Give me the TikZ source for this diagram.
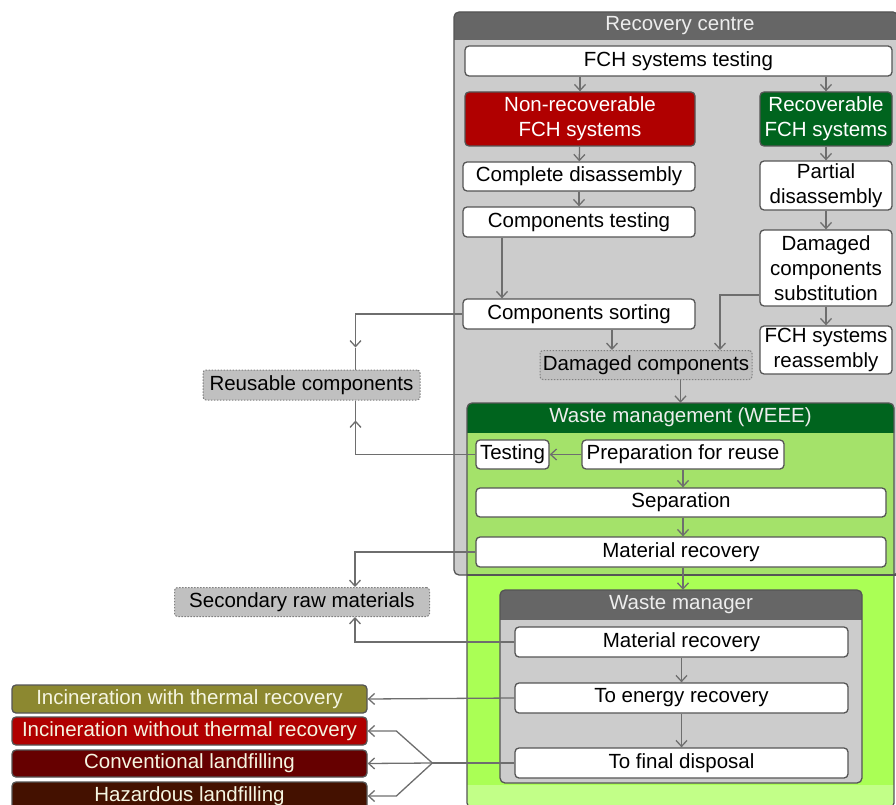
\documentclass[tikz,border=0pt]{standalone}
\usepackage{fontspec}
\setmainfont{Liberation Sans}
\usetikzlibrary{arrows.meta, positioning, calc}

\definecolor{framegray}{RGB}{85, 85, 85}
\definecolor{arrowgray}{RGB}{110, 110, 110}
\definecolor{hdrgray}{RGB}{102, 102, 102}
\definecolor{bodygray}{RGB}{204, 204, 204}
\definecolor{outgray}{RGB}{192, 192, 192}
\definecolor{dotgray}{RGB}{128, 128, 128}
\definecolor{nonrecred}{RGB}{176, 0, 0}
\definecolor{recgreen}{RGB}{0, 100, 30}
\definecolor{weeeshade}{RGB}{164, 226, 106}
\definecolor{weeebright}{RGB}{170, 255, 85}
\definecolor{weeepale}{RGB}{194, 255, 136}
\definecolor{olive1}{RGB}{140, 136, 48}
\definecolor{convred}{RGB}{102, 0, 0}
\definecolor{hazbrown}{RGB}{68, 17, 0}
\definecolor{cream}{RGB}{245, 245, 225}

\newcommand{\flowfont}{\fontsize{20.5}{25}\selectfont}

\tikzset{
  stepbox/.style={draw=framegray, fill=white, line width=1.3pt, rounded corners=4pt,
    inner sep=0pt, align=center, font=\flowfont},
  redbox/.style={stepbox, fill=nonrecred, text=white},
  greenbox/.style={stepbox, fill=recgreen, text=white},
  outbox/.style={draw=dotgray, fill=outgray, line width=1pt, dash pattern=on 1.5pt off 1.5pt,
    rounded corners=3pt, inner sep=0pt, align=center, font=\flowfont},
  endbox/.style={stepbox, text=cream, minimum width=355, minimum height=28},
  hdrtext/.style={inner sep=0pt, text=white!93!black, font=\flowfont},
  frame/.style={draw=framegray, line width=1.3pt},
  link/.style={draw=arrowgray, line width=1.3pt},
  arr/.style={link, -{Straight Barb[length=6pt,width=11pt]}},
}

\begin{document}
\begin{tikzpicture}[x=1pt, y=-1pt]
  \useasboundingbox (0,0) rectangle (896,805);

  % recovery centre panel
  \fill[bodygray, rounded corners=5pt] (454,12) rectangle (898,575);
  \begin{scope}
    \clip (454,12) rectangle (898,40);
    \fill[hdrgray, rounded corners=5pt] (454,12) rectangle (898,60);
  \end{scope}
  \draw[frame, rounded corners=5pt] (454,12) rectangle (898,575);
  \node[hdrtext] (rctitle) at (680,26) {Recovery centre};

  % WEEE panel, over the recovery centre
  \fill[weeebright] (467,432) rectangle (894,808);
  \fill[weeeshade] (467,432) rectangle (894,575);
  \fill[weeepale] (467,785) rectangle (894,808);
  \begin{scope}
    \clip (467,403) rectangle (894,432);
    \fill[recgreen, rounded corners=5pt] (467,403) rectangle (894,450);
  \end{scope}
  \draw[frame, rounded corners=5pt] (467,403) rectangle (894,808);
  \draw[frame] (467,575) -- (898,575);
  \node[hdrtext, minimum width=427, minimum height=29] (weee) at (680.5,417.5) {Waste management (WEEE)};

  % waste manager panel
  \fill[bodygray, rounded corners=5pt] (500,590) rectangle (862,783);
  \begin{scope}
    \clip (500,590) rectangle (862,619);
    \fill[hdrgray, rounded corners=5pt] (500,590) rectangle (862,640);
  \end{scope}
  \draw[frame, rounded corners=5pt] (500,590) rectangle (862,783);
  \node[hdrtext, minimum width=362, minimum height=29] (wmhdr) at (681,604.5) {Waste manager};

  % recovery centre steps
  \node[stepbox, minimum width=427, minimum height=30] (fchtest) at (678.5,61) {FCH systems testing};
  \node[redbox, minimum width=230, minimum height=54] (nonrec) at (580,119) {Non-recoverable\\FCH systems};
  \node[greenbox, minimum width=132, minimum height=54] (rec) at (826,119) {Recoverable\\FCH systems};
  \node[stepbox, minimum width=232, minimum height=29] (compdis) at (579,176.5) {Complete disassembly};
  \node[stepbox, minimum width=232, minimum height=30] (comptest) at (579,222) {Components testing};
  \node[stepbox, minimum width=232, minimum height=30] (compsort) at (579,314) {Components sorting};
  \node[stepbox, minimum width=132, minimum height=49] (partdis) at (826,185.5) {Partial\\disassembly};
  \node[stepbox, minimum width=132, minimum height=76] (dmgsub) at (826,268) {Damaged\\components\\substitution};
  \node[stepbox, minimum width=132, minimum height=48] (reass) at (826,350) {FCH systems\\reassembly};
  \node[outbox, minimum width=212, minimum height=29] (dmgcomp) at (646,365) {Damaged components};
  \node[outbox, minimum width=217, minimum height=30] (reuse) at (311.5,385) {Reusable components};

  % WEEE steps
  \node[stepbox, minimum width=73, minimum height=29] (testing) at (512.5,454.5) {Testing};
  \node[stepbox, minimum width=202, minimum height=29] (prep) at (683,454.5) {Preparation for reuse};
  \node[stepbox, minimum width=410, minimum height=29] (separ) at (681,502.5) {Separation};
  \node[stepbox, minimum width=410, minimum height=30] (matrec) at (681,552) {Material recovery};
  \node[outbox, minimum width=255, minimum height=29] (secraw) at (302,602) {Secondary raw materials};

  % waste manager steps
  \node[stepbox, minimum width=333, minimum height=30] (wmmat) at (681.5,642) {Material recovery};
  \node[stepbox, minimum width=333, minimum height=30] (wmenergy) at (681.5,698) {To energy recovery};
  \node[stepbox, minimum width=333, minimum height=30] (wmfinal) at (681.5,763) {To final disposal};

  % final destinations
  \node[endbox, fill=olive1] (incwith) at (189.5,699) {Incineration with thermal recovery};
  \node[endbox, fill=nonrecred] (incwithout) at (189.5,731) {Incineration without thermal recovery};
  \node[endbox, fill=convred, minimum height=27] (convland) at (189.5,763.5) {Conventional landfilling};
  \node[endbox, fill=hazbrown] (hazland) at (189.5,796) {Hazardous landfilling};

  % connectors in the recovery centre
  \draw[arr] (nonrec.north |- fchtest.south) -- (nonrec.north);
  \draw[arr] (rec.north |- fchtest.south) -- (rec.north);
  \draw[arr] (nonrec) -- (compdis);
  \draw[arr] (compdis) -- (comptest);
  \coordinate (ct1) at ($(comptest.south)+(-77,0)$);
  \draw[arr] (ct1) -- (ct1 |- compsort.north);
  \draw[arr] (rec) -- (partdis);
  \draw[arr] (partdis) -- (dmgsub);
  \draw[arr] (dmgsub) -- (reass);
  \coordinate (cs1) at ($(compsort.south)+(33,0)$);
  \draw[arr] (cs1) -- (cs1 |- dmgcomp.north);
  \coordinate (dc1) at ($(dmgcomp.north)+(74,0)$);
  \draw[arr] ($(dmgsub.west)+(0,27)$) -| (dc1);
  \draw[arr] (weee.north |- dmgcomp.south) -- (weee.north);

  % reusable components
  \coordinate (ru1) at ($(reuse.north)+(44,0)$);
  \coordinate (ru2) at ($(reuse.south)+(44,0)$);
  \draw[arr] (compsort.west) -| ($(ru1)+(0,-22)$);
  \draw[link] ($(ru1)+(0,-22)$) -- (ru1);
  \draw[arr] (testing.west) -| ($(ru2)+(0,20)$);
  \draw[link] ($(ru2)+(0,20)$) -- (ru2);

  % WEEE connectors
  \draw[arr] (prep) -- (testing);
  \draw[arr] (prep.south) -- (prep.south |- separ.north);
  \draw[arr] (prep.south |- separ.south) -- (prep.south |- matrec.north);
  \draw[arr] (prep.south |- matrec.south) -- (prep.south |- wmhdr.north);
  \coordinate (sr1) at ($(secraw.north)+(53,0)$);
  \coordinate (sr2) at ($(secraw.south)+(53,0)$);
  \draw[arr] (matrec.west) -| (sr1);
  \draw[arr] (wmmat.west) -| (sr2);

  % waste manager connectors
  \draw[arr] (wmmat) -- (wmenergy);
  \draw[arr] (wmenergy) -- (wmfinal);
  \draw[arr] (wmenergy.west) -- (incwith.east);
  \coordinate (fork) at ($(wmfinal.west)+(-82,0)$);
  \coordinate (forkup) at ($(fork)+(-36,0)$);
  \draw[link] (wmfinal.west) -- (fork);
  \draw[arr] (fork) -- (forkup |- incwithout.east) -- (incwithout.east);
  \draw[arr] (fork) -- (convland.east);
  \draw[arr] (fork) -- (forkup |- hazland.east) -- (hazland.east);
\end{tikzpicture}
\end{document}
